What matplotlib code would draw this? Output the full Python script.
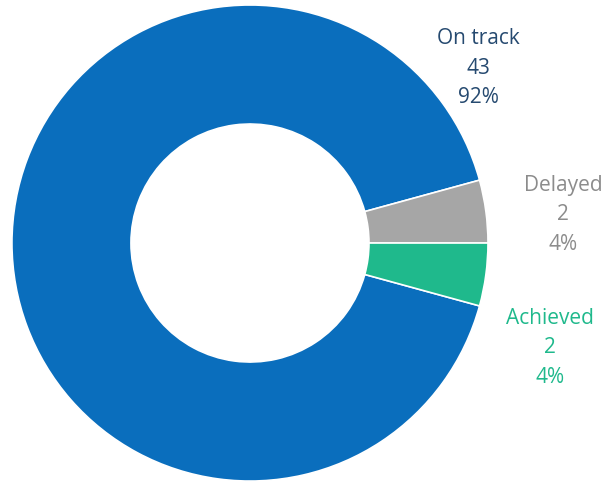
import matplotlib
matplotlib.use("Agg")
import matplotlib.pyplot as plt

categories = ["On track", "Delayed", "Achieved"]
values = [43, 2, 2]
pct_labels = ["92%", "4%", "4%"]
slice_colors = ["#0a6ebd", "#a6a6a6", "#1fb98c"]
label_colors = ["#264a70", "#8c8c8c", "#1fb98c"]
label_pos = [(0.958, 0.735), (1.315, 0.118), (1.26, -0.441)]

plt.rcParams['font.family'] = ['Open Sans', 'DejaVu Sans']

fig = plt.figure(figsize=(6.13, 4.82), dpi=100)
ax = fig.add_axes([0, 0, 1, 1])
total = sum(values)
start = -360 * values[-1] / total
ax.pie(values, colors=slice_colors, startangle=start, counterclock=False,
       radius=1.0, wedgeprops=dict(width=0.5, edgecolor="white", linewidth=1.2))
for cat, v, p, c, (x, y) in zip(categories, values, pct_labels, label_colors, label_pos):
    ax.text(x, y, f"{cat}\n{v}\n{p}", ha="center", va="center", color=c,
            fontsize=15, linespacing=1.55)
ax.set_aspect("equal")
ax.set_xlim(-1.050, 1.525)
ax.set_ylim(-1.004, 1.021)
ax.axis("off")
fig.savefig("out.png", dpi=100)
